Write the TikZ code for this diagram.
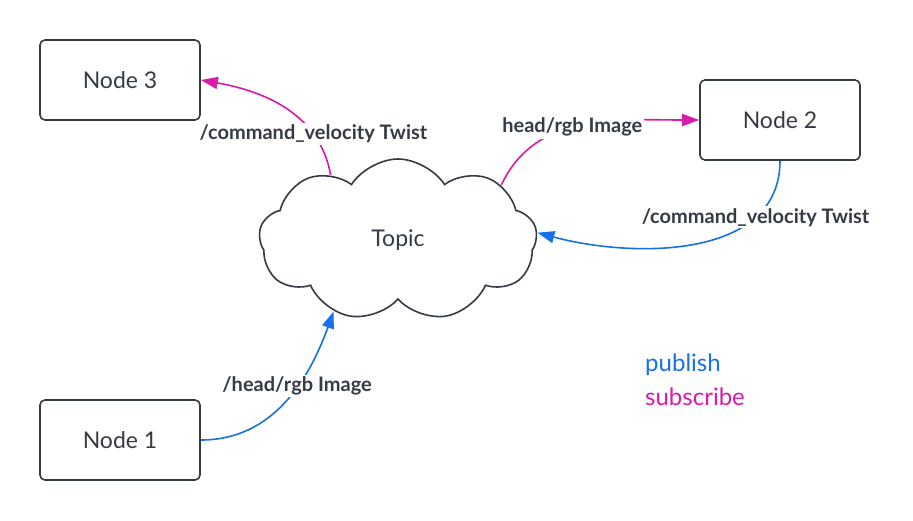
\documentclass[tikz,border=0pt]{standalone}
\usepackage{fontspec}
\setmainfont{Lato}
\usetikzlibrary{shapes.symbols,arrows.meta}
\definecolor{ink}{HTML}{343B45}
\definecolor{pubblue}{HTML}{1672E6}
\definecolor{submag}{HTML}{DA1BA9}
\tikzset{
  rosnode/.style={draw=ink, line width=1.6pt, rounded corners=5pt,
    minimum width=160pt, minimum height=80pt, text=ink,
    font=\fontsize{23}{26}\selectfont},
  topicmsg/.style={fill=white, inner sep=2pt, text=ink,
    font=\bfseries\fontsize{20}{23}\selectfont},
  pub/.style={draw=pubblue, line width=1.6pt, -{Triangle[length=17pt,width=12pt]}},
  sub/.style={draw=submag, line width=1.6pt, -{Triangle[length=17pt,width=12pt]}},
  keytext/.style={anchor=west, inner sep=0pt, font=\fontsize{24}{27}\selectfont}
}

\begin{document}
\begin{tikzpicture}[x=1pt,y=-1pt]
    \useasboundingbox[fill=white] (0,0) rectangle (913,520);
    % nodes
    \node[rosnode] (n3) at (120,80) {Node 3};
    \node[rosnode] (n2) at (780,120) {Node 2};
    \node[rosnode] (n1) at (120,440) {Node 1};
    \node[cloud, draw=ink, line width=1.6pt, cloud puffs=9, cloud puff arc=115,
      aspect=1.7, minimum width=278pt, minimum height=162pt, text=ink,
      font=\fontsize{23}{26}\selectfont] (topic) at (398,240) {Topic};
    % publish / subscribe
    \draw[pub] (n1.east) to[out=0,in=-110]
      node[topicmsg,pos=0.6]{/head/rgb Image} (topic.228);
    \draw[sub] (topic.136) to[out=100,in=-10]
      node[topicmsg,pos=0.26]{/command\_velocity Twist} (n3.east);
    \draw[sub] (topic.28) to[out=65,in=180]
      node[topicmsg,pos=0.45]{head/rgb Image} (n2.west);
    \draw[pub] (n2.south) to[out=-90,in=-15]
      node[topicmsg,pos=0.25]{/command\_velocity Twist} (topic.3);
    % legend
    \node[keytext, text=pubblue] (pubkey) at (645,365) {publish};
    \node[keytext, text=submag] (subkey) at (645,397) {subscribe};
\end{tikzpicture}
\end{document}
